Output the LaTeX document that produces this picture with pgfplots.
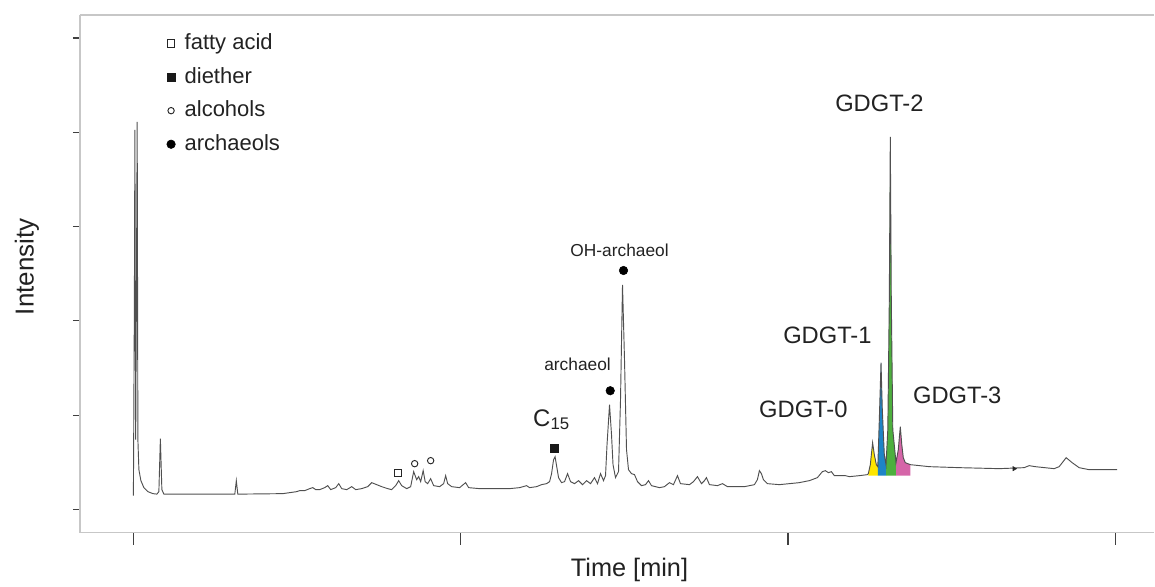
\documentclass[border=0pt]{standalone}
\usepackage{pgfplots}
\usepackage{pgfplotstable}
\pgfplotsset{compat=1.18}
\usepackage{fontspec}
\setmainfont{Liberation Sans}
\definecolor{tracec}{HTML}{505050}
\definecolor{gyel}{HTML}{FFE600}
\definecolor{gblu}{HTML}{1E84C6}
\definecolor{ggrn}{HTML}{4DAF3E}
\definecolor{gpnk}{HTML}{D565A8}
\definecolor{txt}{HTML}{222222}
% values: column px = position along the time axis, py = height (read in picture units, converted below)
\pgfkeys{/pgfplots/table/pix/.style={/pgfplots/table/x expr=(\thisrow{px}-134)/16.365,/pgfplots/table/y expr=(510-\thisrow{py})/94.4}}
\pgfplotstableread{
px py
133.5 496
134.5 300
135 130
135.8 440
136.5 300
137.3 122
138 440
139 470
141 481
144 488
148 492
153 494
157 494.5
159 492
160.5 439
162 490
164 494.5
200 494.5
235 494.5
236.5 481
238 494.5
283 494
290 493
297 492
300 491
305 491
310 489
313 488
316 490
320 490
325 488
328 486
331 490
336 488
339 484
342 489
347 490
352 487
356 490
362 489
368 487
372 483
377 485
382 487
388 489
392 490
396 486
399 481
402 486
407 489
411 487
414 472
417 480
419 477
421 482
423.5 471
425.5 482
428 484
431 479
434 486
440 487
444 484
446 476
448 484
452 487
460 488
466 483
469 488
480 489
500 489
510 489
520 488
527 486
530 488
537 487
542 485
547 484
550 482
552 474
554 460
555.5 457
557 466
559 478
562 483
565 482
568 474
571 482
575 484
579 481
583 485
587 481
591 484
595 478
598 484
601 474
604 481
606 476
607.5 445
610 405
612 435
613.5 465
616 478
619 472
621 400
623 285
625 360
627 450
629 470
632 474
635 475
638 482
642 486
646 485
649 481
652 486
660 488
665 487
670 483
674 485
678 476
681 484
690 485
694 482
698 477
702 484
705 481
707 478
710 485
718 486
723 484
728 487
745 487
755 485
758 480
760 471
762 474
764 480
768 484
780 485
790 484
800 483
810 481
818 478
823 472
826 471
829 473
832 472
835 476
840 476
846 476
850 477
860 476
868 475
869 474
871 465
873.3 443
875 455
877 465
878.5 467
880 420
881.7 363
883 410
885 455
886.7 465
888.5 430
890 300
891 137
892 300
893.5 430
896.7 463
899 450
901 427
902.5 445
904 458
906 463
911 465
930 467
960 468
1000 469
1025 468
1030 466
1036 467
1055 469
1060 467
1067 458
1073 463
1080 468
1090 470
1118 470
}\trace
\pgfplotstableread{
px py
869 476
869 474
871 465
873.3 443
875 455
877 465
878.5 467
878.5 476
}\gzero
\pgfplotstableread{
px py
878.5 476
878.5 467
880 420
881.7 363
883 410
885 455
886.7 465
886.7 476
}\gone
\pgfplotstableread{
px py
886.7 476
886.7 465
888.5 430
890 300
891 137
892 300
893.5 430
896.7 463
896.7 476
}\gtwo
\pgfplotstableread{
px py
896.7 476
896.7 463
899 450
901 427
902.5 445
904 458
906 463
911 465
911 476
}\gthree
\begin{document}
\begin{tikzpicture}
\begin{axis}[
  scale only axis, width=806.25pt, height=388.5pt,
  xmin=-3.2997, xmax=62.392, ymin=-0.24364, ymax=5.24364,
  axis x line*=box, axis y line*=left,
  xtick={0,20,40,60}, ytick={0,1,2,3,4,5},
  xticklabels={}, yticklabels={},
  xtick pos=bottom,
  tick align=outside,
  axis line style={black!22, line width=1.3pt},
  tick style={black!75, line width=0.8pt},
  xtick style={/pgfplots/major tick length=9pt},
  ytick style={/pgfplots/major tick length=5.25pt},
  clip=false,
  legend style={draw=none, fill=none, at={(rel axis cs:0.0769,0.975)}, anchor=north west,
    font=\fontsize{16.5}{20}\selectfont, text=txt, row sep=6.2pt,
    nodes={text height=12pt, text depth=3pt},
    /tikz/every odd column/.append style={column sep=5pt}},
  legend cell align=left,
]
\addplot[fill=gyel, draw=none, forget plot] table[pix] {\gzero};
\addplot[fill=gblu, draw=none, forget plot] table[pix] {\gone};
\addplot[fill=ggrn, draw=none, forget plot] table[pix] {\gtwo};
\addplot[fill=gpnk, draw=none, forget plot] table[pix] {\gthree};
\addplot[tracec, line width=0.7pt, forget plot] table[pix] {\trace};
\addplot[only marks, mark=triangle*, mark size=1.8pt, mark options={rotate=-90, fill=black!85, draw=black!85}, forget plot] table[pix] {
px py
1015 469
};
\addplot[only marks, mark=square, mark size=2.7pt, mark options={line width=0.7pt, draw=black!85}] table[pix] {
px py
398 473
};
\addplot[only marks, mark=square*, mark size=3pt, mark options={fill=black!90, draw=black!90}] table[pix] {
px py
555 449
};
\addplot[only marks, mark=o, mark size=2.4pt, mark options={line width=0.7pt, draw=black!85}] table[pix] {
px py
415 464
431 461
};
\addplot[only marks, mark=*, mark size=3.2pt, mark options={fill=black, draw=black}] table[pix] {
px py
610.7 391
624 270.7
};
\legend{fatty acid, diether, alcohols, archaeols}
\node[font=\fontsize{17.8}{21}\selectfont, text=txt] at (axis cs:45.59,4.311) {GDGT-2};
\node[font=\fontsize{17.8}{21}\selectfont, text=txt] at (axis cs:42.41,1.843) {GDGT-1};
\node[font=\fontsize{17.8}{21}\selectfont, text=txt] at (axis cs:40.94,1.059) {GDGT-0};
\node[font=\fontsize{17.8}{21}\selectfont, text=txt] at (axis cs:50.35,1.208) {GDGT-3};
\node[font=\fontsize{13}{16}\selectfont, text=txt] at (axis cs:29.70,2.754) {OH-archaeol};
\node[font=\fontsize{13}{16}\selectfont, text=txt] at (axis cs:27.13,1.536) {archaeol};
\node[font=\fontsize{18}{21}\selectfont, text=txt] at (axis cs:25.54,0.953) {C$_{\mathrm{15}}$};
\node[rotate=90, font=\fontsize{19.5}{23}\selectfont, text=txt] at (rel axis cs:-0.0493,0.5135) {Intensity};
\node[font=\fontsize{19}{23}\selectfont, text=txt] at (rel axis cs:0.5116,-0.0730) {Time [min]};
\path (rel axis cs:-0.07442,-0.08880) rectangle (rel axis cs:1,1.02896);
\end{axis}
\end{tikzpicture}
\end{document}
